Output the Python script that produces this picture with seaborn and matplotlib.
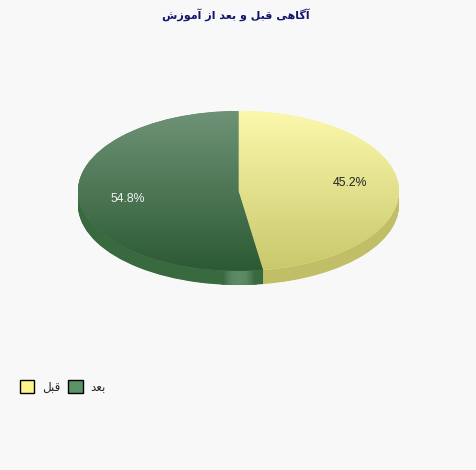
import numpy as np
import matplotlib
matplotlib.use("Agg")
import matplotlib.pyplot as plt
from matplotlib.colors import LinearSegmentedColormap
from matplotlib.patches import Patch
import seaborn as sns

title_fa = "آگاهی قبل و بعد از آموزش"
categories = ["قبل", "بعد"]
percent = [45.2, 54.8]
percent_text = ["45.2%", "54.8%"]
legend_colors = ["#FBF58A", "#5A9366"]
top_colors = [("#FCF8AC", "#C8C86C"), ("#6E9276", "#2C5A34")]
side_colors = ["#C0BF68", "#39693F"]

# matplotlib does not join arabic letters, so pick the presentation forms by hand
forms = {
    "آ": "\uFE81\uFE82", "ا": "\uFE8D\uFE8E", "د": "\uFEA9\uFEAA",
    "ز": "\uFEAF\uFEB0", "و": "\uFEED\uFEEE",
    "گ": "\uFB92\uFB93\uFB94\uFB95", "ه": "\uFEE9\uFEEA\uFEEB\uFEEC",
    "ی": "\uFBFC\uFBFD\uFBFE\uFBFF", "ق": "\uFED5\uFED6\uFED7\uFED8",
    "ب": "\uFE8F\uFE90\uFE91\uFE92", "ل": "\uFEDD\uFEDE\uFEDF\uFEE0",
    "ع": "\uFEC9\uFECA\uFECB\uFECC", "م": "\uFEE1\uFEE2\uFEE3\uFEE4",
    "ش": "\uFEB5\uFEB6\uFEB7\uFEB8",
}


def shape(text):
    out = []
    for i, c in enumerate(text):
        if c not in forms:
            out.append(c)
            continue
        before = i > 0 and text[i - 1] in forms and len(forms[text[i - 1]]) == 4
        after = i + 1 < len(text) and text[i + 1] in forms and len(forms[c]) == 4
        idx = {(0, 0): 0, (1, 0): 1, (0, 1): 2, (1, 1): 3}[(int(before), int(after))]
        out.append(forms[c][idx])
    return "".join(reversed(out))


sns.set_theme(style="white", rc={"figure.facecolor": "#F8F8F8", "axes.facecolor": "#F8F8F8"})
plt.rcParams["font.family"] = ["Liberation Sans", "DejaVu Sans"]

W, H = 476, 470
cx, cy, rx, ry, depth = 238.5, 191, 160.5, 80, 14

fig = plt.figure(figsize=(W / 100, H / 100), dpi=100)
ax = fig.add_axes([0, 0, 1, 1])

# the renderer measures slice angles on the screen, not around the ellipse
theta = np.radians(np.cumsum([0] + percent) * 3.6)
t = np.unwrap(np.arctan2(np.sin(theta) * ry, np.cos(theta) * rx))
t[t < 0] += 2 * np.pi
t[-1] = 2 * np.pi
sizes = np.diff(t)

# seaborn's white patch edge would hide the stacked discs
no_edge = {"linewidth": 0, "edgecolor": "none"}

# lowest disc first, then stack upwards to make the rim
low_wedges, _ = ax.pie(sizes, startangle=90, counterclock=False, colors=side_colors,
                       center=(0, -depth / ry), radius=1, wedgeprops=no_edge)
for d in np.arange(depth - 0.5, 0, -0.5):
    ax.pie(sizes, startangle=90, counterclock=False, colors=side_colors,
           center=(0, -d / ry), radius=1, wedgeprops=no_edge)

# side highlight at the front of the disc
band = np.array([[0.0, 0.55, 0.9, 1.0, 1.0, 0.9, 0.55, 0.0]])
shine = LinearSegmentedColormap.from_list("shine", ["#39693F", "#5E8A66"])
x0, x1 = (221 - cx) / rx, (257 - cx) / rx
im = ax.imshow(band, cmap=shine, vmin=0, vmax=1, extent=(x0, x1, -95 / ry, -(271 - cy) / ry),
               aspect="auto", interpolation="bilinear", zorder=1.5)
im.set_clip_path(low_wedges[1])

wedges, _ = ax.pie(sizes, startangle=90, counterclock=False, colors=legend_colors,
                   radius=1, wedgeprops=no_edge)
for w in wedges:
    w.set_zorder(2)
for w, (c_top, c_bottom) in zip(wedges, top_colors):
    cmap = LinearSegmentedColormap.from_list("g", [c_top, c_bottom])
    im = ax.imshow(np.linspace(0, 1, 160)[:, None], cmap=cmap, extent=(-1, 1, -1, 1),
                   aspect="auto", zorder=3)
    im.set_clip_path(w)

mids = np.radians((np.cumsum([0] + percent)[:-1] + np.array(percent) / 2) * 3.6)
for m, txt, col in zip(mids, percent_text, ["#222222", "#F2F2F2"]):
    ax.text(0.7 * np.sin(m), 0.7 * np.cos(m), txt, color=col, fontsize=8.8,
            ha="center", va="center", zorder=4)

ax.set_xlim(-cx / rx, (W - cx) / rx)
ax.set_ylim((cy - H) / ry, cy / ry)
ax.set_aspect("auto")
ax.set_frame_on(False)
ax.set_xticks([])
ax.set_yticks([])

fig.text(236 / W, 1 - 15 / H, shape(title_fa), color="#14146E", fontsize=8.0, fontweight="bold",
         family="DejaVu Sans", ha="center", va="center")

handles = [Patch(facecolor=c, edgecolor="black", linewidth=1.0) for c in legend_colors]
fig.legend(handles, [shape(c) for c in categories], ncols=2, frameon=False,
           loc="center left", bbox_to_anchor=(10 / W, 1 - 387 / H),
           handlelength=1.25, handleheight=1.25, handletextpad=0.6, columnspacing=0.65,
           borderpad=0.3, prop={"family": "DejaVu Sans", "size": 8.6})

fig.savefig("out.png", dpi=100, facecolor=fig.get_facecolor())
